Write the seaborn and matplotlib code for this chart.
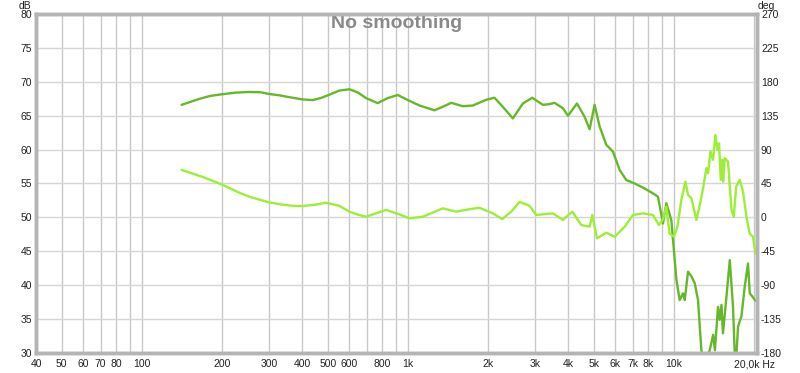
import matplotlib
matplotlib.use("Agg")
import matplotlib.pyplot as plt
import seaborn as sns
import pandas as pd

# ---- data ----
spl_freq = [141, 165, 180, 199, 225, 253, 280, 301, 330, 350, 402, 438, 470, 500, 552, 603, 650, 696,
            770, 840, 916, 1000, 1105, 1258, 1350, 1454, 1608, 1754, 1969, 2116, 2274, 2480, 2704,
            2933, 3215, 3400, 3557, 3824, 3995, 4320, 4612, 4819, 5031, 5256, 5568, 5897, 6248, 6623,
            7115, 7647, 8337, 8709, 9092, 9360, 9776, 10212, 10508, 10816, 10977, 11292, 11631, 11968,
            12316, 12500, 12680, 12860, 13200, 13625, 14040, 14255, 14640, 14855, 15085, 15280, 15750,
            16210, 16670, 16900, 17130, 17410, 17930, 18450, 18980, 19270, 19740, 20160, 20450]
spl_db = [66.6, 67.5, 67.9, 68.15, 68.4, 68.5, 68.45, 68.2, 68.0, 67.8, 67.4, 67.3, 67.6, 68.0, 68.7,
          68.9, 68.4, 67.6, 66.85, 67.6, 68.05, 67.3, 66.5, 65.8, 66.3, 66.9, 66.4, 66.5, 67.35, 67.65,
          66.3, 64.6, 66.8, 67.65, 66.6, 66.7, 66.9, 66.1, 65.0, 66.8, 64.85, 63.0, 66.6, 63.4, 60.7,
          59.7, 57.0, 55.5, 55.0, 54.4, 53.55, 53.05, 49.1, 52.1, 49.6, 40.8, 37.8, 38.8, 37.8, 42.0,
          41.3, 40.3, 37.8, 33.9, 30.4, 29.0, 29.0, 30.4, 32.7, 30.4, 36.8, 34.9, 37.1, 32.9, 38.3,
          43.7, 36.8, 30.4, 29.0, 33.9, 35.4, 39.8, 43.2, 38.8, 38.3, 37.8, 37.6]

ph_freq = [141, 170, 199, 230, 253, 301, 340, 369, 402, 451, 492, 552, 603, 650, 696, 760, 828, 920,
           1013, 1137, 1352, 1519, 1700, 1854, 2085, 2262, 2445, 2628, 2866, 3037, 3507, 3824, 4148,
           4484, 4819, 4932, 5136, 5568, 5988, 6527, 7012, 7647, 8337, 8783, 9092, 9360, 9630, 10000,
           10300, 10664, 11040, 11300, 11630, 12144, 12500, 12864, 13240, 13430, 13712, 14025, 14316,
           14565, 14770, 14996, 15210, 15300, 15520, 15960, 16456, 16780, 17130, 17665, 18185, 18720,
           19256, 19820, 20240]
ph_deg = [63, 53.5, 43.9, 33.5, 27.5, 19.9, 16.8, 15.4, 15, 17, 19.5, 15.4, 7.6, 3.5, 0.9, 5.5, 9.9,
          4.5, -1.2, 0.9, 12, 7.6, 10.8, 12.8, 5.4, -2.2, 7.6, 20.6, 15.4, 3.2, 5.4, -3.4, 7.6,
          -10.1, -12.3, 3.2, -27.8, -20.3, -25.7, -12.3, 3.2, 5.4, 3.2, -10.1, -2.5, 14.2, -21.6,
          -25.7, -12.3, 23.4, 47.4, 29.7, 25.4, -3.4, 16.2, 38.7, 65.3, 58.5, 87.3, 76.5, 109.4,
          89.4, 98.5, 49.8, 76.5, 47.4, 78.8, 74, 9.9, 0.9, 40.9, 49.8, 34.2, 0.9, -21.6, -25.7, -47.8]

grid_freqs = [40, 50, 60, 70, 80, 90, 100, 200, 300, 400, 500, 600, 700, 800, 900,
              1000, 2000, 3000, 4000, 5000, 6000, 7000, 8000, 9000, 10000, 20000]
grid_labels = ["40", "50", "60", "70", "80", "", "100", "200", "300", "400", "500", "600", "", "800", "",
               "1k", "2k", "3k", "4k", "5k", "6k", "7k", "8k", "", "10k", "20,0k Hz"]
db_ticks = [30, 35, 40, 45, 50, 55, 60, 65, 70, 75, 80]
deg_ticks = [-180, -135, -90, -45, 0, 45, 90, 135, 180, 225, 270]

spl_df = pd.DataFrame({"freq": spl_freq, "dB": spl_db})
ph_df = pd.DataFrame({"freq": ph_freq, "deg": ph_deg})

# ---- style ----
sns.set_style("white")
plt.rcParams["font.family"] = ["Liberation Sans", "DejaVu Sans"]

fig = plt.figure(figsize=(8.0, 3.73), dpi=100)
ax = fig.add_axes([0.045, 0.0536, 0.901, 0.9089])
ax2 = ax.twinx()

sns.lineplot(data=spl_df, x="freq", y="dB", ax=ax, color="#66b828", linewidth=1.7,
             estimator=None, sort=False)
sns.lineplot(data=ph_df, x="freq", y="deg", ax=ax2, color="#9cee36", linewidth=1.7,
             estimator=None, sort=False)

ax.set_xscale("log")
ax.set_xlim(40, 20480)
ax.set_ylim(30, 80)
ax2.set_ylim(-180, 270)

ax.set_xticks(grid_freqs)
ax.set_xticklabels(grid_labels)
ax.minorticks_off()
ax2.minorticks_off()
ax.set_yticks(db_ticks)
ax.set_yticklabels([str(v) for v in db_ticks])
ax2.set_yticks(deg_ticks)
ax2.set_yticklabels([str(v) for v in deg_ticks])

ax.grid(True, axis="x", color="#c8c8c8", linewidth=1.0)
ax.grid(True, axis="y", color="#d6d6d6", linewidth=1.0)
ax.set_axisbelow(True)

ax.set_xlabel("")
ax.set_ylabel("")
ax2.set_ylabel("")

ax.tick_params(axis="x", length=0, labelsize=7.5, colors="#222222", pad=4.5)
ax.tick_params(axis="y", length=0, labelsize=7.5, colors="#222222", pad=3)
ax2.tick_params(axis="y", length=0, labelsize=7.5, colors="#222222", pad=3)

for a in (ax, ax2):
    for s in a.spines.values():
        s.set_color("#b4b4b4")
        s.set_linewidth(2.5)

fig.text(25 / 800, 1 - 6 / 373, "dB", ha="center", va="center", fontsize=7.5, color="#222222")
fig.text(766 / 800, 1 - 6 / 373, "deg", ha="center", va="center", fontsize=7.5, color="#222222")
ax.text(0.5, 1 - 10 / 339, "No smoothing", transform=ax.transAxes, ha="center", va="center",
        fontsize=14, fontweight="bold", color="#8a8a8a")

fig.savefig("out.png", dpi=100)
